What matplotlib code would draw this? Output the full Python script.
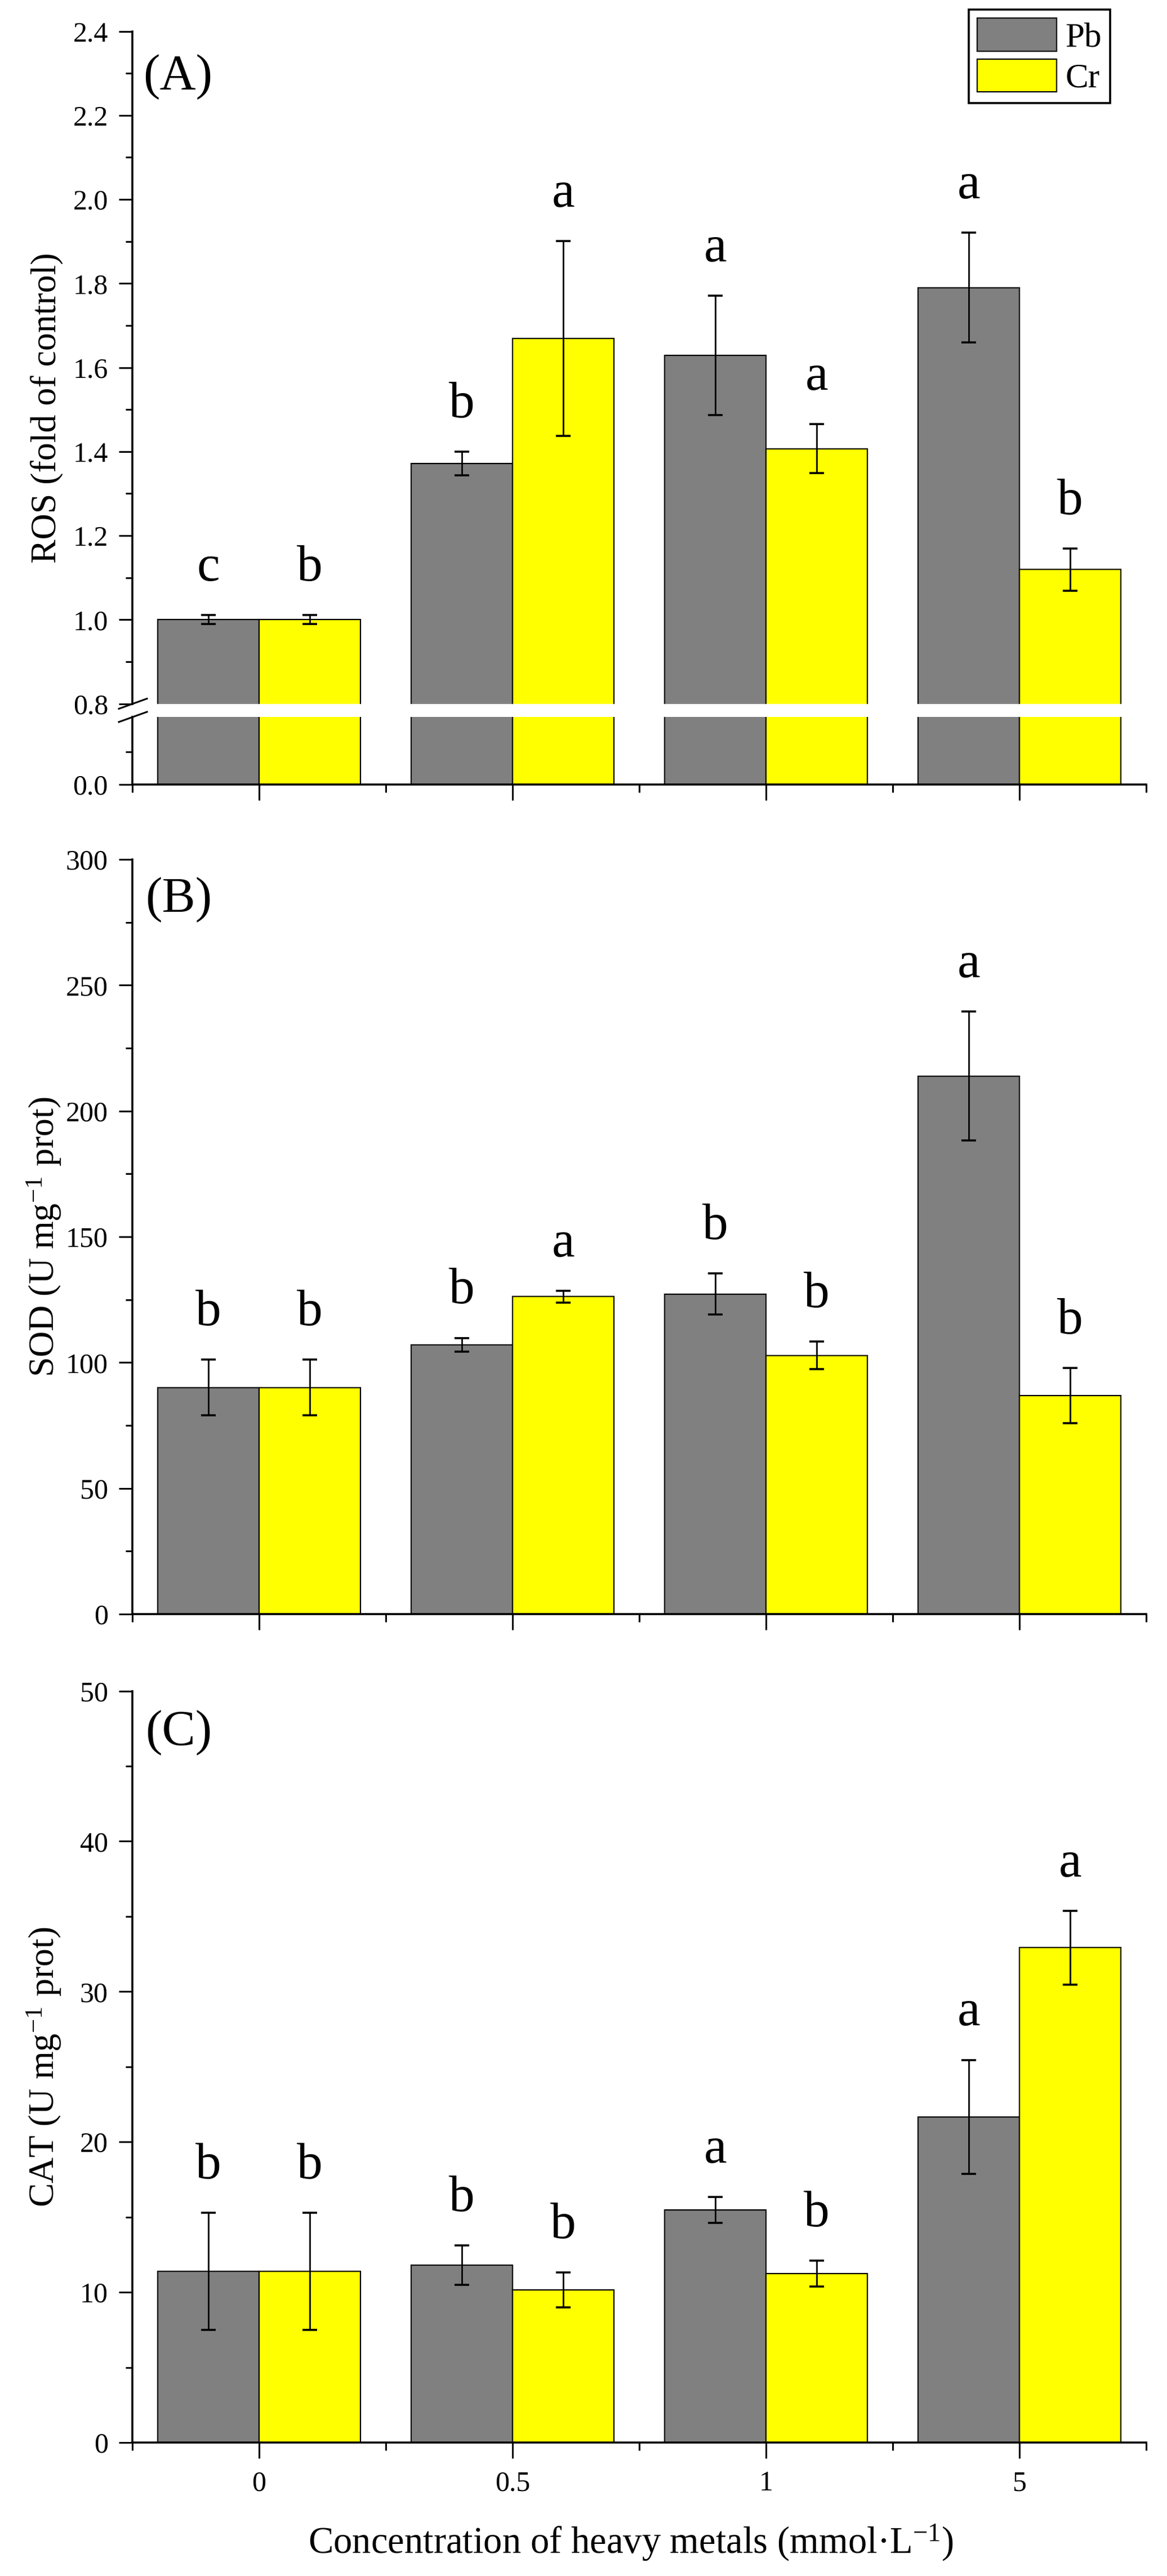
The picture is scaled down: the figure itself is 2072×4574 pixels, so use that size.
"""
    Redraw of the three-panel bar chart (ROS, SOD, CAT) under Pb and Cr
    exposure, with the broken y axis on panel (A).
"""

import matplotlib
matplotlib.use("Agg")
import matplotlib.pyplot as plt
from matplotlib.lines import Line2D
from matplotlib.ticker import MultipleLocator, FixedLocator


# ----------------------------- data -----------------------------------
concentrations = ["0", "0.5", "1", "5"]
metals = ["Pb", "Cr"]

ros_pb = [1.00, 1.372, 1.629, 1.790]
ros_pb_err = [0.011, 0.028, 0.142, 0.131]
ros_cr = [1.00, 1.669, 1.407, 1.119]
ros_cr_err = [0.011, 0.232, 0.058, 0.050]
ros_pb_letters = ["c", "b", "a", "a"]
ros_cr_letters = ["b", "a", "a", "b"]

sod_pb = [90.1, 107.1, 127.2, 213.9]
sod_pb_err = [11.0, 2.7, 8.2, 25.6]
sod_cr = [90.1, 126.2, 102.8, 86.8]
sod_cr_err = [11.0, 2.3, 5.5, 11.0]
sod_pb_letters = ["b", "b", "b", "a"]
sod_cr_letters = ["b", "a", "b", "b"]

cat_pb = [11.39, 11.81, 15.47, 21.66]
cat_pb_err = [3.9, 1.3, 0.85, 3.8]
cat_cr = [11.39, 10.15, 11.24, 32.92]
cat_cr_err = [3.9, 1.15, 0.85, 2.45]
cat_pb_letters = ["b", "b", "a", "a"]
cat_cr_letters = ["b", "b", "b", "a"]

# ----------------------------- style ----------------------------------
PB_COLOR = "#808080"
CR_COLOR = "#FFFF00"
BAR_W = 0.4
FIG_W, FIG_H = 2072, 4574
DPI = 100

plt.rcParams["font.family"] = ["Liberation Serif", "DejaVu Serif"]
plt.rcParams["mathtext.fontset"] = "custom"
plt.rcParams["mathtext.rm"] = "Liberation Serif"
plt.rcParams["mathtext.it"] = "Liberation Serif:italic"
plt.rcParams["mathtext.default"] = "regular"


def fig_rect(top_px, bottom_px, left_px=235, right_px=2035):
    """
        Axes rectangle in figure fractions from pixel edges.
    """
    return [left_px / FIG_W, 1 - bottom_px / FIG_H,
            (right_px - left_px) / FIG_W, (bottom_px - top_px) / FIG_H]


def style_axis(ax, show_bottom=True, xlabels=False):
    """
        Origin-like axis look: left and bottom spines only, ticks outside.
    """
    for side in ["top", "right"]:
        ax.spines[side].set_visible(False)
    ax.spines["left"].set_linewidth(2.6)
    ax.spines["bottom"].set_linewidth(2.6)
    ax.set_xlim(-0.5, 3.5)
    ax.tick_params(axis="y", which="major", direction="out", length=17,
                   width=2.2, labelsize=36, pad=14)
    ax.tick_params(axis="y", which="minor", direction="out", length=9,
                   width=2.2)
    if show_bottom:
        ax.set_xticks(range(len(concentrations)))
        ax.xaxis.set_minor_locator(FixedLocator([-0.5, 0.5, 1.5, 2.5, 3.5]))
        ax.tick_params(axis="x", which="major", direction="out", length=20,
                       width=2.2, labelsize=36, pad=16)
        ax.tick_params(axis="x", which="minor", direction="out", length=10,
                       width=2.2)
        if xlabels:
            ax.set_xticklabels(concentrations)
        else:
            ax.set_xticklabels([])
    else:
        ax.spines["bottom"].set_visible(False)
        ax.tick_params(axis="x", which="both", bottom=False,
                       labelbottom=False)


def draw_bars(ax, pb, pb_err, cr, cr_err):
    """
        Two bars per concentration with error bars.
    """
    x = list(range(len(concentrations)))
    x_pb = [i - BAR_W / 2 for i in x]
    x_cr = [i + BAR_W / 2 for i in x]
    err_kw = dict(ecolor="black", elinewidth=2.0, capsize=9.5, capthick=2.6)
    ax.bar(x_pb, pb, BAR_W, yerr=pb_err, color=PB_COLOR, edgecolor="black",
           linewidth=1.6, error_kw=err_kw, label=metals[0])
    ax.bar(x_cr, cr, BAR_W, yerr=cr_err, color=CR_COLOR, edgecolor="black",
           linewidth=1.6, error_kw=err_kw, label=metals[1])
    return x_pb, x_cr


def draw_letters(ax, xs, values, errs, letters):
    """
        Significance letters just above each error bar.
    """
    for xi, v, e, s in zip(xs, values, errs, letters):
        ax.annotate(s, (xi, v + e), xytext=(0, 44), textcoords="offset points",
                    ha="center", va="baseline", fontsize=66)


def main():
    """
        Main function
    """
    fig = plt.figure(figsize=(FIG_W / DPI, FIG_H / DPI), dpi=DPI)

    # ---------------- panel A (broken axis) ----------------
    ax_a = fig.add_axes(fig_rect(55.5, 1249.5))
    ax_a_low = fig.add_axes(fig_rect(1273, 1393))
    for ax in (ax_a, ax_a_low):
        xp, xc = draw_bars(ax, ros_pb, ros_pb_err, ros_cr, ros_cr_err)
    style_axis(ax_a, show_bottom=False)
    style_axis(ax_a_low, show_bottom=True)
    ax_a.set_ylim(0.8, 2.4)
    ax_a.yaxis.set_major_locator(MultipleLocator(0.2))
    ax_a.yaxis.set_minor_locator(MultipleLocator(0.1))
    ax_a.yaxis.set_major_formatter("{x:.1f}")
    ax_a_low.set_ylim(0, 0.83)
    ax_a_low.yaxis.set_major_locator(FixedLocator([0.0]))
    ax_a_low.yaxis.set_minor_locator(FixedLocator([0.4]))
    ax_a_low.yaxis.set_major_formatter("{x:.1f}")
    draw_letters(ax_a, xp, ros_pb, ros_pb_err, ros_pb_letters)
    draw_letters(ax_a, xc, ros_cr, ros_cr_err, ros_cr_letters)

    # break marks on the y axis
    for ax, where in ((ax_a, 0.0), (ax_a_low, 1.0)):
        pos = ax.get_position()
        x0 = pos.x0 * FIG_W
        y0 = (pos.y0 + where * pos.height) * FIG_H
        fig.add_artist(Line2D([(x0 - 24) / FIG_W, (x0 + 26) / FIG_W],
                              [(y0 - 9) / FIG_H, (y0 + 9) / FIG_H],
                              color="black", linewidth=2.2))

    fig.text(112 / FIG_W, 1 - 724 / FIG_H, "ROS (fold of control)",
             rotation=90, ha="right", va="center", fontsize=46)
    fig.text(254 / FIG_W, 1 - 137 / FIG_H, "(A)", ha="left", va="center",
             fontsize=64)
    ax_a.legend(loc="upper right",
                bbox_to_anchor=(1971 / FIG_W, 1 - 17 / FIG_H),
                bbox_transform=fig.transFigure, fontsize=44, frameon=True,
                fancybox=False, edgecolor="black", framealpha=1,
                handlelength=2.3, handleheight=1.1, labelspacing=0.15,
                handletextpad=0.25, borderpad=0.25, borderaxespad=0)
    ax_a.get_legend().get_frame().set_linewidth(2.6)

    # ---------------- panel B ----------------
    ax_b = fig.add_axes(fig_rect(1526, 2866))
    xp, xc = draw_bars(ax_b, sod_pb, sod_pb_err, sod_cr, sod_cr_err)
    style_axis(ax_b)
    ax_b.set_ylim(0, 300)
    ax_b.yaxis.set_major_locator(MultipleLocator(50))
    ax_b.yaxis.set_minor_locator(MultipleLocator(25))
    draw_letters(ax_b, xp, sod_pb, sod_pb_err, sod_pb_letters)
    draw_letters(ax_b, xc, sod_cr, sod_cr_err, sod_cr_letters)
    fig.text(112 / FIG_W, 1 - 2196 / FIG_H, "SOD (U mg$^{-1}$ prot)",
             rotation=90, ha="right", va="center", fontsize=46)
    fig.text(258 / FIG_W, 1 - 1598 / FIG_H, "(B)", ha="left", va="center",
             fontsize=64)

    # ---------------- panel C ----------------
    ax_c = fig.add_axes(fig_rect(3002.6, 4337))
    xp, xc = draw_bars(ax_c, cat_pb, cat_pb_err, cat_cr, cat_cr_err)
    style_axis(ax_c, xlabels=True)
    ax_c.set_ylim(0, 50)
    ax_c.yaxis.set_major_locator(MultipleLocator(10))
    ax_c.yaxis.set_minor_locator(MultipleLocator(5))
    draw_letters(ax_c, xp, cat_pb, cat_pb_err, cat_pb_letters)
    draw_letters(ax_c, xc, cat_cr, cat_cr_err, cat_cr_letters)
    fig.text(112 / FIG_W, 1 - 3670 / FIG_H, "CAT (U mg$^{-1}$ prot)",
             rotation=90, ha="right", va="center", fontsize=46)
    fig.text(258 / FIG_W, 1 - 3077 / FIG_H, "(C)", ha="left", va="center",
             fontsize=64)

    fig.text(1120 / FIG_W, 1 - 4515 / FIG_H,
             "Concentration of heavy metals (mmol\u00b7L$^{-1}$)",
             ha="center", va="center", fontsize=48)

    fig.savefig("out.png", dpi=DPI)


if __name__ == "__main__":
    main()
